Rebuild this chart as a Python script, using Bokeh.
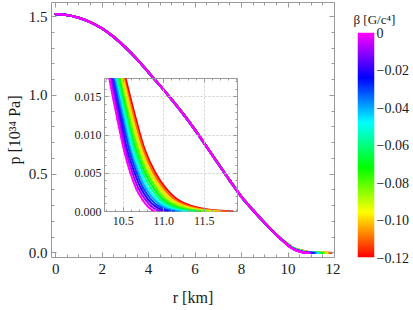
import colorsys
import numpy as np
from bokeh.plotting import figure
from bokeh.models import (Range1d, LinearAxis, FixedTicker, NumeralTickFormatter,
                          CustomJSTickFormatter, LinearColorMapper)
from bokeh.embed import file_html
from bokeh.resources import INLINE

# ---------------- data ----------------
# common body of the pressure profiles (all beta curves coincide here)
r_body = [0.0, 0.5, 1.0, 1.5, 2.0, 2.5, 3.0, 3.5, 4.0, 4.5,
          5.0, 5.5, 6.0, 6.5, 7.0, 7.5, 8.0, 8.5, 9.0, 9.5]
p_body = [1.515, 1.509, 1.492, 1.464, 1.424, 1.370, 1.304, 1.229, 1.145, 1.060,
          0.972, 0.880, 0.780, 0.673, 0.565, 0.458, 0.355, 0.270, 0.190, 0.115]

# surface tails: radius reached at each pressure level, one list per beta
tail_p_levels = [0.060, 0.040, 0.025, 0.0174, 0.012, 0.008, 0.005, 0.003,
                 0.0015, 0.0007, 0.0002, 0.0]
beta_values = [0.0, -0.01, -0.02, -0.03, -0.04, -0.05, -0.06,
               -0.07, -0.08, -0.09, -0.10, -0.11, -0.12]
tail_r_by_beta = [
    [9.900, 10.060, 10.220, 10.33, 10.430, 10.510, 10.590, 10.660, 10.740, 10.800, 10.855, 10.890],
    [9.905, 10.067, 10.230, 10.35, 10.450, 10.530, 10.616, 10.690, 10.777, 10.846, 10.916, 10.970],
    [9.910, 10.073, 10.240, 10.36, 10.470, 10.550, 10.642, 10.720, 10.813, 10.892, 10.978, 11.050],
    [9.915, 10.080, 10.250, 10.38, 10.490, 10.575, 10.668, 10.750, 10.850, 10.938, 11.039, 11.130],
    [9.920, 10.087, 10.260, 10.40, 10.510, 10.595, 10.693, 10.780, 10.887, 10.983, 11.100, 11.210],
    [9.925, 10.093, 10.270, 10.41, 10.530, 10.620, 10.719, 10.810, 10.923, 11.029, 11.161, 11.290],
    [9.930, 10.100, 10.285, 10.43, 10.545, 10.640, 10.745, 10.845, 10.960, 11.075, 11.223, 11.375],
    [9.935, 10.107, 10.290, 10.45, 10.560, 10.660, 10.771, 10.880, 10.997, 11.121, 11.284, 11.460],
    [9.940, 10.113, 10.310, 10.46, 10.580, 10.685, 10.797, 10.910, 11.033, 11.167, 11.345, 11.540],
    [9.945, 10.120, 10.320, 10.48, 10.600, 10.705, 10.823, 10.940, 11.070, 11.213, 11.406, 11.620],
    [9.950, 10.127, 10.330, 10.50, 10.620, 10.727, 10.848, 10.970, 11.107, 11.258, 11.468, 11.700],
    [9.955, 10.133, 10.340, 10.51, 10.640, 10.750, 10.874, 11.000, 11.143, 11.304, 11.529, 11.780],
    [9.960, 10.140, 10.350, 10.53, 10.660, 10.770, 10.900, 11.030, 11.180, 11.350, 11.590, 11.860],
]

main_x_ticks = [0, 2, 4, 6, 8, 10, 12]
main_y_ticks = [0.0, 0.5, 1.0, 1.5]
inset_x_ticks = [10.5, 11.0, 11.5]
inset_y_ticks = [0.000, 0.005, 0.010, 0.015]
cbar_ticks = [0.0, -0.02, -0.04, -0.06, -0.08, -0.10, -0.12]
cbar_labels = ["0", "\u22120.02", "\u22120.04", "\u22120.06", "\u22120.08", "\u22120.10", "\u22120.12"]

x_label = "r [km]"
y_label = "p [10\u00b3\u2074 Pa]"
cbar_title = "\u03b2 [G/c\u2074]"

# ---------------- style ----------------
FONT = "Liberation Serif"
TEXT = "#1a1a1a"
FRAME = "#9a9a9a"
BETA_LOW, BETA_HIGH = -0.12, 0.0


def hue_hex(frac):
    r, g, b = colorsys.hsv_to_rgb(frac * 300.0 / 360.0, 1.0, 1.0)
    return "#{:02x}{:02x}{:02x}".format(round(r * 255), round(g * 255), round(b * 255))


def beta_color(b):
    return hue_hex((b - BETA_LOW) / (BETA_HIGH - BETA_LOW))


def style_axis(ax, size, show_labels=True, major=5, minor=3):
    ax.axis_line_color = None
    ax.major_tick_line_color = FRAME
    ax.minor_tick_line_color = FRAME
    ax.major_tick_in = major
    ax.major_tick_out = 0
    ax.minor_tick_in = minor
    ax.minor_tick_out = 0
    ax.major_label_text_font = FONT
    ax.axis_label_text_font = FONT
    ax.axis_label_text_font_style = "normal"
    ax.axis_label_text_color = TEXT
    if show_labels:
        ax.major_label_text_font_size = size
        ax.major_label_text_color = TEXT
    else:
        ax.major_label_text_font_size = "1px"
        ax.major_label_text_color = None
        ax.major_label_standoff = 0


def smooth_line(fig, xs, ys, color, width):
    """Draw a smooth curve passing through the data points (Catmull-Rom as cubic Beziers)."""
    P = np.column_stack([xs, ys]).astype(float)
    T = np.zeros_like(P)
    T[0] = P[1] - P[0]
    T[-1] = P[-1] - P[-2]
    T[1:-1] = (P[2:] - P[:-2]) / 2.0
    c0 = P[:-1] + T[:-1] / 3.0
    c1 = P[1:] - T[1:] / 3.0
    fig.bezier(x0=P[:-1, 0], y0=P[:-1, 1], x1=P[1:, 0], y1=P[1:, 1],
               cx0=c0[:, 0], cy0=c0[:, 1], cx1=c1[:, 0], cy1=c1[:, 1],
               line_color=color, line_width=width, line_cap="round")


# ---------------- main plot ----------------
main = figure(frame_width=283, frame_height=255,
              x_range=Range1d(-0.18, 12.0), y_range=Range1d(-0.029, 1.589),
              output_backend="svg", toolbar_location=None,
              min_border_left=51, min_border_right=6, min_border_top=2, min_border_bottom=53)
main.styles = {"position": "absolute", "left": "0px", "top": "0px"}
main.outline_line_color = FRAME
main.grid.visible = False

xt = FixedTicker(ticks=main_x_ticks, minor_ticks=[float(v) for v in np.arange(0, 12.01, 0.5)])
yt = FixedTicker(ticks=main_y_ticks, minor_ticks=[round(float(v), 2) for v in np.arange(0, 1.59, 0.1)])

main.xaxis.ticker = xt
main.yaxis.ticker = yt
main.yaxis.formatter = NumeralTickFormatter(format="0.0")
main.xaxis.axis_label = x_label
main.yaxis.axis_label = y_label
for ax in (main.xaxis[0], main.yaxis[0]):
    style_axis(ax, "15px")
    ax.axis_label_text_font_size = "16px"
main.xaxis.major_label_standoff = 6
main.xaxis.axis_label_standoff = 12
main.yaxis.major_label_standoff = 4
main.yaxis.axis_label_standoff = 3

top_ax = LinearAxis(ticker=xt)
style_axis(top_ax, "1px", show_labels=False)
main.add_layout(top_ax, "above")
right_ax = LinearAxis(ticker=yt)
style_axis(right_ax, "1px", show_labels=False)
main.add_layout(right_ax, "right")

# ---------------- inset ----------------
inset = figure(frame_width=133, frame_height=133,
               x_range=Range1d(10.27, 11.91), y_range=Range1d(0.0, 0.0174),
               output_backend="svg", toolbar_location=None,
               min_border_left=40, min_border_right=8, min_border_top=8, min_border_bottom=25)
inset.styles = {"position": "absolute", "left": "64px", "top": "70px"}
inset.background_fill_color = None
inset.border_fill_color = None
inset.outline_line_color = FRAME

ixt = FixedTicker(ticks=inset_x_ticks, minor_ticks=[round(float(v), 2) for v in np.arange(10.3, 11.95, 0.1)])
iyt = FixedTicker(ticks=inset_y_ticks, minor_ticks=[round(float(v), 4) for v in np.arange(0, 0.0175, 0.001)])
inset.xaxis.ticker = ixt
inset.yaxis.ticker = iyt
inset.xaxis.formatter = NumeralTickFormatter(format="0.0")
inset.yaxis.formatter = NumeralTickFormatter(format="0.000")
for ax in (inset.xaxis[0], inset.yaxis[0]):
    style_axis(ax, "12px", major=4, minor=2)
inset.xaxis.major_label_standoff = 5
inset.yaxis.major_label_standoff = 3
itop = LinearAxis(ticker=ixt)
style_axis(itop, "1px", show_labels=False, major=4, minor=2)
inset.add_layout(itop, "above")
iright = LinearAxis(ticker=iyt)
style_axis(iright, "1px", show_labels=False, major=4, minor=2)
inset.add_layout(iright, "right")
inset.xgrid.ticker = FixedTicker(ticks=inset_x_ticks)
inset.ygrid.ticker = FixedTicker(ticks=inset_y_ticks)
inset.grid.grid_line_color = "#cccccc"
inset.grid.grid_line_dash = "2 2"

# ---------------- curves ----------------
for k in reversed(range(len(beta_values))):
    r_vals = r_body + tail_r_by_beta[k]
    p_vals = p_body + tail_p_levels
    col = beta_color(beta_values[k])
    smooth_line(main, r_vals, p_vals, col, 2.3)
    smooth_line(inset, r_vals, p_vals, col, 2.0)

# ---------------- colour bar ----------------
palette = [hue_hex(i / 255.0) for i in range(256)]
mapper = LinearColorMapper(palette=palette, low=BETA_LOW, high=BETA_HIGH)
cbar = figure(frame_width=17, frame_height=225,
              x_range=Range1d(0, 1), y_range=Range1d(BETA_LOW, BETA_HIGH),
              x_axis_type=None, y_axis_type=None,
              output_backend="svg", toolbar_location=None, title=cbar_title,
              min_border_left=17, min_border_right=39, min_border_top=32, min_border_bottom=53)
cbar.styles = {"position": "absolute", "left": "340px", "top": "0px"}
cbar.outline_line_color = None
cbar.grid.visible = False
grad = np.linspace(BETA_LOW, BETA_HIGH, 256).reshape(256, 1)
cbar.image(image=[grad], x=0, y=BETA_LOW, dw=1, dh=BETA_HIGH - BETA_LOW, color_mapper=mapper)
cax = LinearAxis(ticker=FixedTicker(ticks=cbar_ticks),
                 formatter=CustomJSTickFormatter(
                     args=dict(tick_vals=cbar_ticks, tick_texts=cbar_labels),
                     code="const i = tick_vals.findIndex(t => Math.abs(t - tick) < 1e-9); return i >= 0 ? tick_texts[i] : '';"))
style_axis(cax, "14px", major=0, minor=0)
cax.major_tick_line_color = None
cax.minor_tick_line_color = None
cax.major_label_standoff = 2
cbar.add_layout(cax, "right")
cbar.title.text_font = FONT
cbar.title.text_font_style = "normal"
cbar.title.text_font_size = "13px"
cbar.title.text_color = TEXT
cbar.title.align = "left"
cbar.title.offset = -4
cbar.title.standoff = 11

open("out.html", "w").write(file_html([main, inset, cbar], INLINE))
